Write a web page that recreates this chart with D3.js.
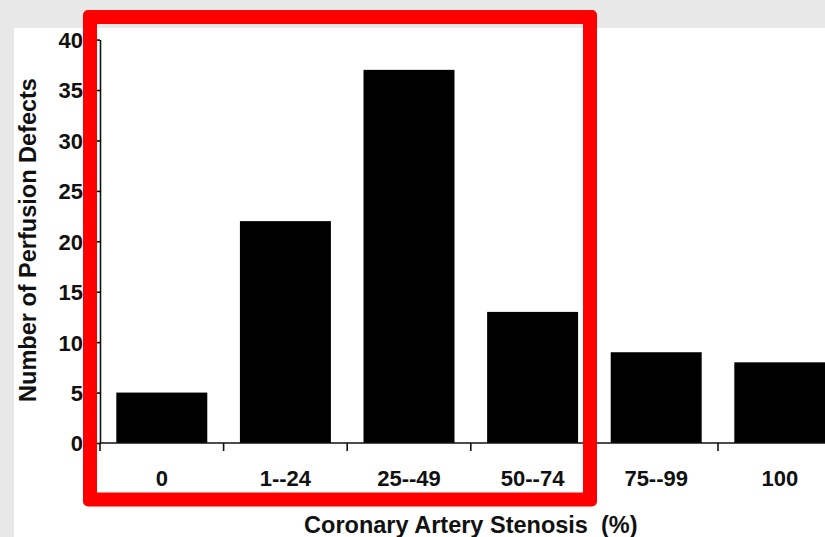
<!DOCTYPE html>
<html>
<head>
<meta charset="utf-8">
<script src="https://cdn.jsdelivr.net/npm/d3@7/dist/d3.min.js"></script>
<style>
  html, body { margin: 0; padding: 0; background: #e8e8e8; }
  svg { display: block; }
  text { font-family: "Liberation Sans", Arial, Helvetica, sans-serif; font-weight: bold; fill: #111; }
</style>
</head>
<body>
<svg id="chart" width="825" height="537"></svg>
<script>
// Perfusion defects by degree of coronary artery stenosis
const categories = ["0", "1--24", "25--49", "50--74", "75--99", "100"];
const defects = [5, 22, 37, 13, 9, 8];
const yTickValues = [0, 5, 10, 15, 20, 25, 30, 35, 40];
const xTitle = "Coronary Artery Stenosis  (%)";
const yTitle = "Number of Perfusion Defects";
const highlighted = ["0", "1--24", "25--49", "50--74"];

const W = 825, H = 537;
const svg = d3.select("#chart");

// page backdrop and white card
svg.append("rect").attr("width", W).attr("height", H).attr("fill", "#e8e8e8");
svg.append("rect").attr("x", 14).attr("y", 28).attr("width", W - 14).attr("height", H - 28).attr("fill", "#ffffff");

const axisX = 100;
const step = 123.6;
const x = d3.scaleBand()
  .domain(categories)
  .range([axisX, axisX + step * categories.length])
  .paddingInner(0.264)
  .paddingOuter(0.132);

const y = d3.scaleLinear().domain([0, 40]).range([443, 39.6]);

// bars
svg.append("g").selectAll("rect")
  .data(categories.map((c, i) => ({ c, v: defects[i] })))
  .join("rect")
  .attr("x", d => x(d.c))
  .attr("y", d => y(d.v))
  .attr("width", x.bandwidth())
  .attr("height", d => y(0) - y(d.v))
  .attr("fill", "#000");

// y axis
const yAxis = d3.axisLeft(y).tickValues(yTickValues).tickSize(6).tickPadding(11).tickSizeOuter(0);
const gy = svg.append("g").attr("transform", `translate(${axisX},0)`).call(yAxis);
gy.select(".domain").attr("stroke", "#111").attr("stroke-width", 1.6);
gy.selectAll(".tick line").attr("stroke", "#111").attr("stroke-width", 1.6);
gy.selectAll(".tick text")
  .attr("font-size", 22)
  .attr("dy", "0.36em")
  .style("font-family", '"Liberation Sans", Arial, sans-serif')
  .style("font-weight", "bold")
  .attr("fill", "#111");

// x axis baseline with ticks at category boundaries
const xEnd = x.range()[1];
svg.append("line")
  .attr("x1", axisX).attr("x2", xEnd)
  .attr("y1", y(0)).attr("y2", y(0))
  .attr("stroke", "#111").attr("stroke-width", 1.6);

const boundaries = d3.range(categories.length + 1).map(i => x.range()[0] + i * x.step());
svg.append("g").selectAll("line")
  .data(boundaries)
  .join("line")
  .attr("x1", d => d).attr("x2", d => d)
  .attr("y1", y(0)).attr("y2", y(0) + 8)
  .attr("stroke", "#111").attr("stroke-width", 1.6);

// category labels
svg.append("g").selectAll("text")
  .data(categories)
  .join("text")
  .attr("x", d => x(d) + x.bandwidth() / 2)
  .attr("y", 485.5)
  .attr("text-anchor", "middle")
  .attr("font-size", 22)
  .text(d => d);

// axis titles
svg.append("text")
  .attr("x", (axisX + xEnd) / 2)
  .attr("y", 532.5)
  .attr("text-anchor", "middle")
  .attr("font-size", 23.5)
  .attr("xml:space", "preserve")
  .style("white-space", "pre")
  .text(xTitle);

svg.append("text")
  .attr("transform", `translate(36,240) rotate(-90)`)
  .attr("text-anchor", "middle")
  .attr("font-size", 23.5)
  .text(yTitle);

// red frame around the first four categories
const firstIdx = categories.indexOf(highlighted[0]);
const lastIdx = categories.indexOf(highlighted[highlighted.length - 1]);
const fx0 = x.range()[0] + firstIdx * x.step() - 10;
const fx1 = x.range()[0] + (lastIdx + 1) * x.step() - 4.4;
const fy0 = y(40) - 22.6;
const fy1 = 499.5;
const sw = 14;
const frame = d3.path();
const r = 5;
const ox0 = fx0 - sw / 2, ox1 = fx1 + sw / 2, oy0 = fy0 - sw / 2, oy1 = fy1 + sw / 2;
frame.moveTo(ox0 + r, oy0);
frame.lineTo(ox1 - r, oy0);
frame.arcTo(ox1, oy0, ox1, oy0 + r, r);
frame.lineTo(ox1, oy1 - r);
frame.arcTo(ox1, oy1, ox1 - r, oy1, r);
frame.lineTo(ox0 + r, oy1);
frame.arcTo(ox0, oy1, ox0, oy1 - r, r);
frame.lineTo(ox0, oy0 + r);
frame.arcTo(ox0, oy0, ox0 + r, oy0, r);
frame.closePath();
const ix0 = fx0 + sw / 2, ix1 = fx1 - sw / 2, iy0 = fy0 + sw / 2, iy1 = fy1 - sw / 2;
frame.moveTo(ix0, iy0);
frame.lineTo(ix0, iy1);
frame.lineTo(ix1, iy1);
frame.lineTo(ix1, iy0);
frame.closePath();
svg.append("path")
  .attr("d", frame.toString())
  .attr("fill", "#ff0000")
  .attr("fill-rule", "evenodd");
</script>
</body>
</html>
